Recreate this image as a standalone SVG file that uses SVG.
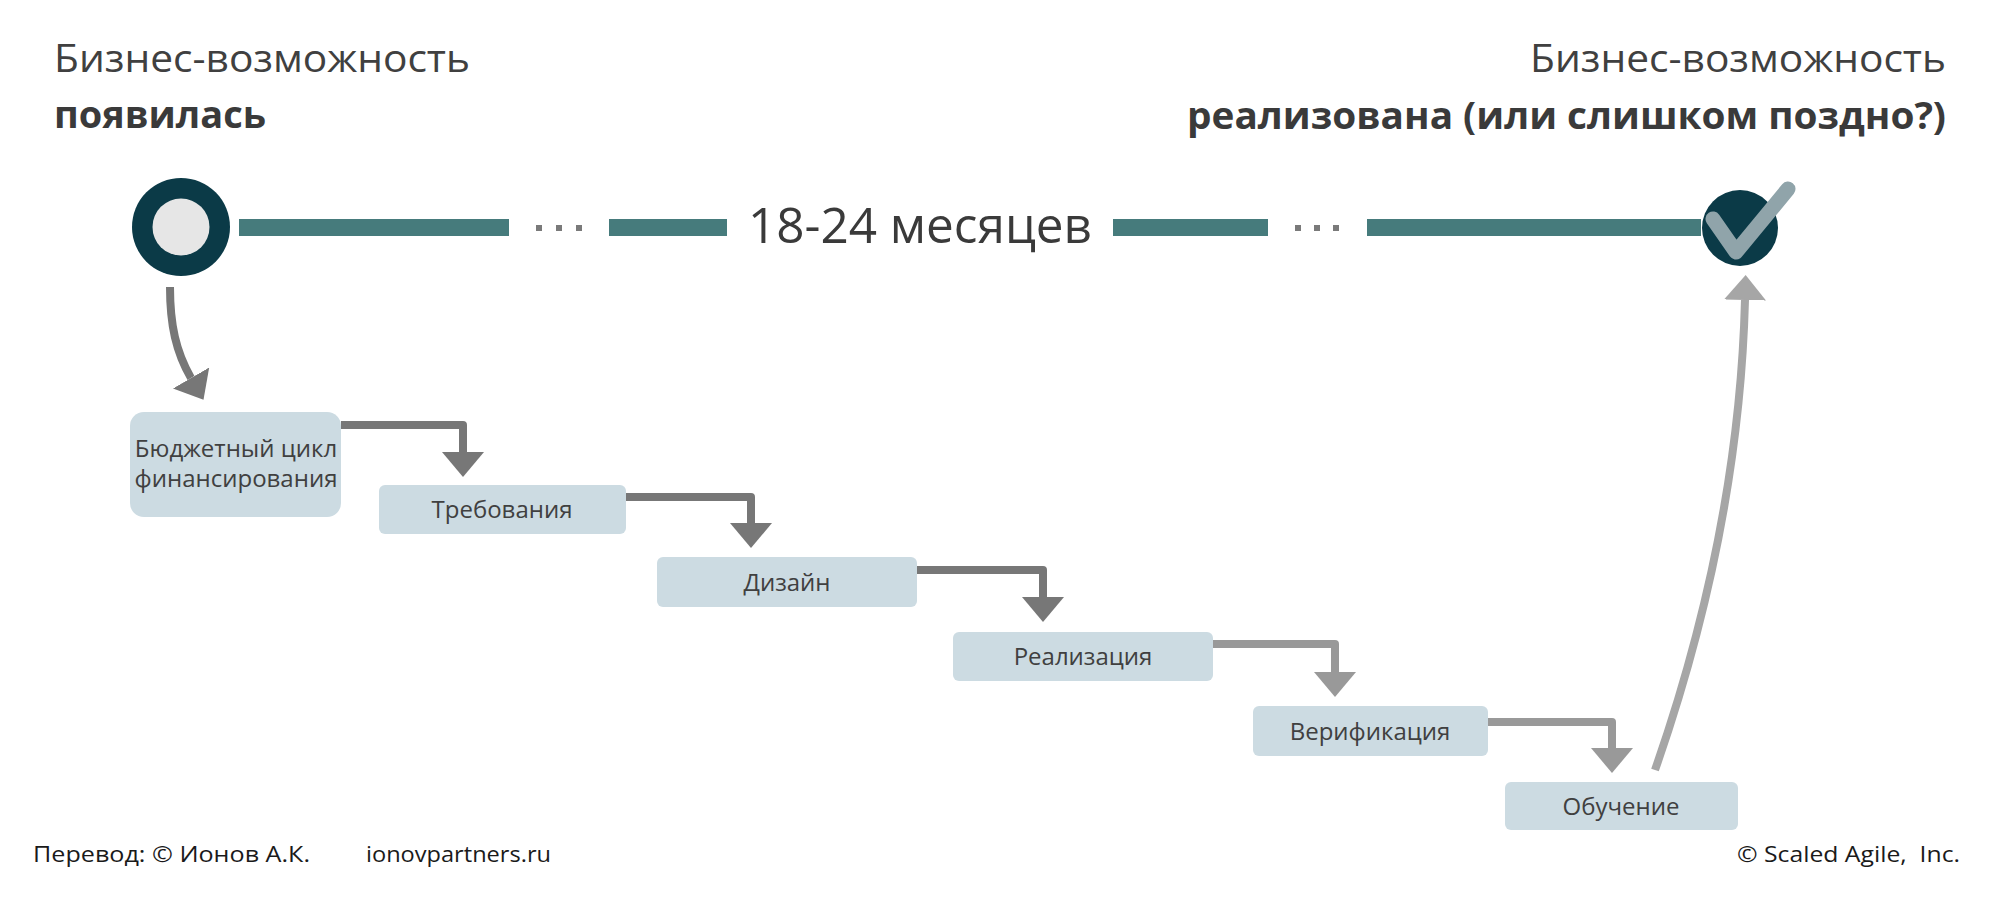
<svg xmlns="http://www.w3.org/2000/svg" width="2000" height="917" viewBox="0 0 2000 917">
  <defs>
    <style>
      .title { font-family: "Open Sans", "Liberation Sans", sans-serif; font-size: 38px; fill: #404040; }
      .bold { font-weight: bold; fill: #3a3a3a; }
      .dur { font-family: "Open Sans", "Liberation Sans", sans-serif; font-size: 50px; fill: #3a3a3a; }
      .box { fill: #ccdbe2; }
      .lbl { font-family: "Open Sans", "Liberation Sans", sans-serif; font-size: 24px; fill: #404040; text-anchor: middle; }
      .foot { font-family: "Open Sans", "Liberation Sans", sans-serif; font-size: 21px; fill: #1a1a1a; }
      .bar { fill: #467b7c; }
      .dot { fill: #7a7a7a; }
      .conn { fill: none; stroke-width: 8; stroke-linejoin: round; }
      .dark { stroke: #777777; }
      .light { stroke: #999999; }
    </style>
    <marker id="ahDark" markerUnits="userSpaceOnUse" markerWidth="25" markerHeight="42" viewBox="0 0 25 42" refX="0" refY="21" orient="auto">
      <path d="M0,0 L25,21 L0,42 Z" fill="#777777"/>
    </marker>
    <marker id="ahLight" markerUnits="userSpaceOnUse" markerWidth="25" markerHeight="42" viewBox="0 0 25 42" refX="0" refY="21" orient="auto">
      <path d="M0,0 L25,21 L0,42 Z" fill="#999999"/>
    </marker>
    <marker id="ahPale" markerUnits="userSpaceOnUse" markerWidth="25" markerHeight="42" viewBox="0 0 25 42" refX="0" refY="21" orient="auto">
      <path d="M0,0 L25,21 L0,42 Z" fill="#a6a6a6"/>
    </marker>
  </defs>

  <rect x="0" y="0" width="2000" height="917" fill="#ffffff"/>

  <g id="header-left">
    <text class="title" x="54" y="72" textLength="416" lengthAdjust="spacingAndGlyphs">Бизнес-возможность</text>
    <text class="title bold" x="54" y="128" textLength="212" lengthAdjust="spacingAndGlyphs">появилась</text>
  </g>
  <g id="header-right">
    <text class="title" x="1530" y="72" textLength="416" lengthAdjust="spacingAndGlyphs">Бизнес-возможность</text>
    <text class="title bold" x="1187" y="129" textLength="759" lengthAdjust="spacingAndGlyphs">реализована (или слишком поздно?)</text>
  </g>

  <g id="timeline">
    <rect class="bar" x="239" y="219" width="270" height="17"/>
    <rect class="dot" x="536" y="225" width="6" height="6"/>
    <rect class="dot" x="556" y="225" width="6" height="6"/>
    <rect class="dot" x="576" y="225" width="6" height="6"/>
    <rect class="bar" x="609" y="219" width="118" height="17"/>
    <text class="dur" x="748" y="243" textLength="344" lengthAdjust="spacingAndGlyphs">18-24 месяцев</text>
    <rect class="bar" x="1113" y="219" width="155" height="17"/>
    <rect class="dot" x="1295" y="225" width="6" height="6"/>
    <rect class="dot" x="1314" y="225" width="6" height="6"/>
    <rect class="dot" x="1333" y="225" width="6" height="6"/>
    <rect class="bar" x="1367" y="219" width="334" height="17"/>
  </g>

  <g id="start">
    <circle cx="181" cy="227" r="49" fill="#0b3a47"/>
    <circle cx="181" cy="227" r="28.5" fill="#e6e6e6"/>
  </g>

  <g id="finish">
    <circle cx="1740" cy="228" r="38" fill="#0b3a47"/>
    <path d="M1713,219 L1736,252 L1788,189" fill="none" stroke="#90a4aa" stroke-width="15" stroke-linecap="round" stroke-linejoin="round"/>
  </g>

  <g id="box-budget">
    <rect class="box" x="130" y="412" width="211" height="105" rx="14"/>
    <text class="lbl" x="236" y="457">Бюджетный цикл</text>
    <text class="lbl" x="236" y="487">финансирования</text>
  </g>
  <g id="box-req">
    <rect class="box" x="379" y="485" width="247" height="49" rx="6"/>
    <text class="lbl" x="502" y="518">Требования</text>
  </g>
  <g id="box-design">
    <rect class="box" x="657" y="557" width="260" height="50" rx="6"/>
    <text class="lbl" x="787" y="591">Дизайн</text>
  </g>
  <g id="box-impl">
    <rect class="box" x="953" y="632" width="260" height="49" rx="6"/>
    <text class="lbl" x="1083" y="665">Реализация</text>
  </g>
  <g id="box-verif">
    <rect class="box" x="1253" y="706" width="235" height="50" rx="6"/>
    <text class="lbl" x="1370" y="740">Верификация</text>
  </g>
  <g id="box-learn">
    <rect class="box" x="1505" y="782" width="233" height="48" rx="6"/>
    <text class="lbl" x="1621" y="815">Обучение</text>
  </g>

  <g id="connectors">
    <path class="conn dark" d="M170,287 C170,325 176,352 191,378" marker-end="url(#ahDark)"/>
    <path class="conn dark" d="M341,425 L463,425 L463,452" marker-end="url(#ahDark)"/>
    <path class="conn dark" d="M626,497 L751,497 L751,523" marker-end="url(#ahDark)"/>
    <path class="conn dark" d="M917,570 L1043,570 L1043,597" marker-end="url(#ahDark)"/>
    <path class="conn light" d="M1213,644 L1335,644 L1335,672" marker-end="url(#ahLight)"/>
    <path class="conn light" d="M1488,722 L1612,722 L1612,748" marker-end="url(#ahLight)"/>
    <path class="conn" stroke="#a6a6a6" d="M1655,770 Q1739,530 1745,300" marker-end="url(#ahPale)"/>
  </g>

  <g id="footer">
    <text class="foot" x="33" y="862" textLength="277" lengthAdjust="spacingAndGlyphs">Перевод: © Ионов А.К.</text>
    <text class="foot" x="366" y="862" textLength="185" lengthAdjust="spacingAndGlyphs">ionovpartners.ru</text>
    <text class="foot" x="1737" y="862" textLength="223" lengthAdjust="spacingAndGlyphs" xml:space="preserve">© Scaled Agile,  Inc.</text>
  </g>
</svg>
